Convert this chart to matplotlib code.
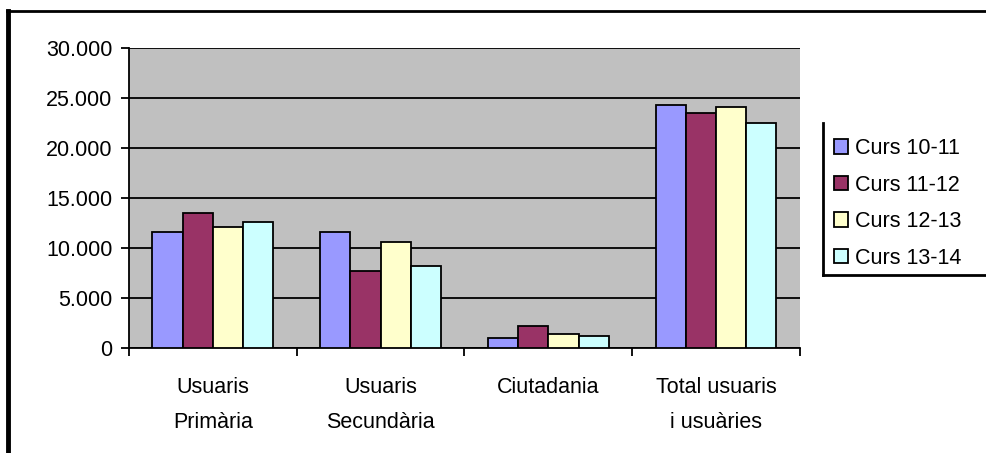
import matplotlib.pyplot as plt
import numpy as np
from matplotlib.lines import Line2D
from matplotlib.ticker import FuncFormatter

plt.rcParams['font.family'] = ['Liberation Sans', 'DejaVu Sans']

categories = ["Usuaris\nPrimària", "Usuaris\nSecundària", "Ciutadania", "Total usuaris\ni usuàries"]
series = ["Curs 10-11", "Curs 11-12", "Curs 12-13", "Curs 13-14"]
curs_10_11 = [11600, 11600, 1000, 24300]
curs_11_12 = [13500, 7700, 2200, 23500]
curs_12_13 = [12100, 10600, 1400, 24100]
curs_13_14 = [12600, 8200, 1200, 22500]
colors = ['#9999FF', '#993366', '#FFFFCC', '#CCFFFF']

fig = plt.figure(figsize=(9.87, 4.53), dpi=100)
ax = fig.add_axes([0.1307, 0.2318, 0.6798, 0.6622])
ax.set_facecolor('#C0C0C0')

x = np.arange(len(categories))
w = 0.18
for i, (vals, name) in enumerate(zip([curs_10_11, curs_11_12, curs_12_13, curs_13_14], series)):
    ax.bar(x + (i - 1.5) * w, vals, w, color=colors[i], edgecolor='black', linewidth=1.3,
           label=name, zorder=3)

ax.set_xlim(-0.5, len(categories) - 0.5)
ax.set_ylim(0, 30000)
ax.set_yticks(range(0, 30001, 5000))
ax.yaxis.set_major_formatter(FuncFormatter(lambda v, p: f"{int(v):,}".replace(",", ".")))
ax.grid(axis='y', color='black', linewidth=1.3, zorder=1)
ax.set_axisbelow(True)

ax.set_xticks(np.arange(-0.5, len(categories), 1.0))
ax.set_xticklabels([])
ax.set_xticks(x, minor=True)
ax.set_xticklabels(categories, minor=True, fontsize=15.5, linespacing=1.85)
ax.tick_params(axis='x', which='minor', length=0, pad=21)
ax.tick_params(axis='x', which='major', length=6, width=1.3, direction='out')
ax.tick_params(axis='y', length=6, width=1.3, labelsize=15.5, pad=6)

for s in ['top', 'right']:
    ax.spines[s].set_visible(False)
ax.spines['left'].set_linewidth(1.3)
ax.spines['bottom'].set_linewidth(1.3)

leg = ax.legend(loc='upper left', bbox_to_anchor=(0.836, 0.714), bbox_transform=fig.transFigure,
                frameon=False, fontsize=15.5, handlelength=0.65, handleheight=0.65,
                handletextpad=0.35, labelspacing=0.72, borderaxespad=0)

# legend frame (left and bottom edges) and figure border
fig.add_artist(Line2D([0.834, 0.834], [0.393, 0.729], color='black', lw=2, transform=fig.transFigure))
fig.add_artist(Line2D([0.834, 1.0], [0.393, 0.393], color='black', lw=2, transform=fig.transFigure))
fig.add_artist(Line2D([0.007, 1.0], [0.976, 0.976], color='black', lw=2, transform=fig.transFigure))
fig.add_artist(Line2D([0.008, 0.008], [0.0, 0.976], color='black', lw=3.5, transform=fig.transFigure))

fig.savefig('out.png', dpi=100)
